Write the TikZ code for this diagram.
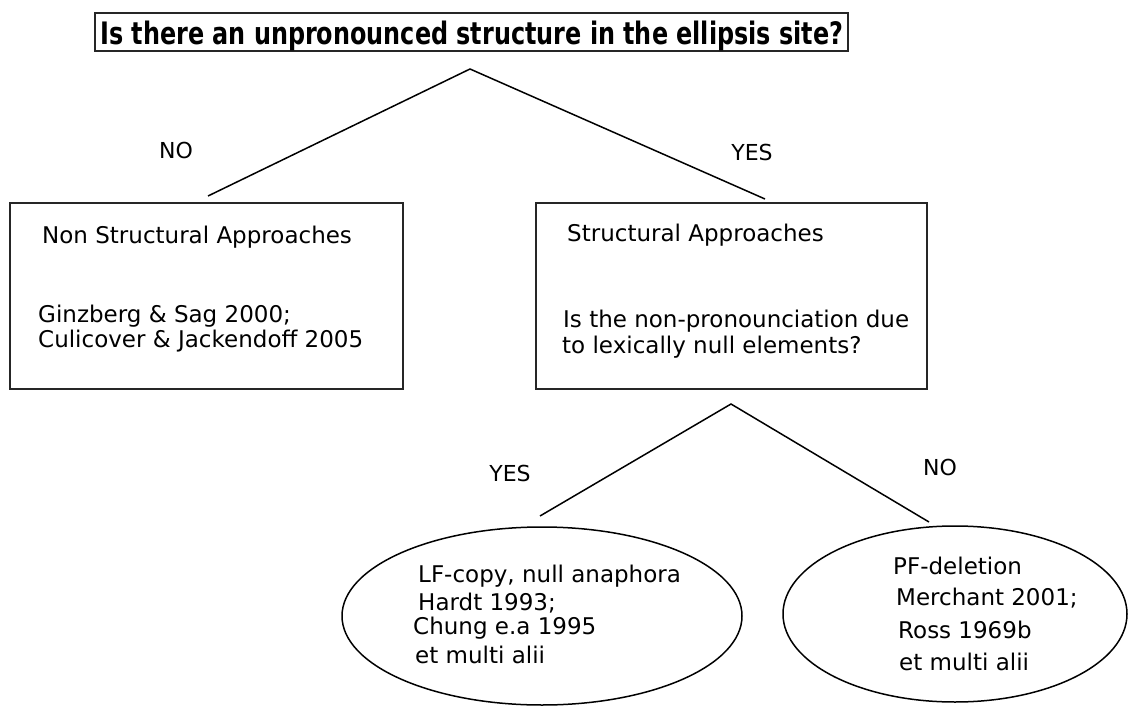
\documentclass[tikz,border=0pt]{standalone}
\usepackage{fontspec}
\setmainfont{DejaVu Sans}
\usepackage{graphicx}
\begin{document}
\begin{tikzpicture}[x=1pt,y=-1pt,
  frame/.style={draw=black!85, line width=1.6pt},
  branch/.style={draw=black, line width=1.5pt},
  txt/.style={inner sep=0pt, anchor=base west, font=\fontsize{23}{27}\selectfont},
  lbl/.style={inner sep=0pt, font=\fontsize{22}{26}\selectfont},
  oval/.style={draw=black, line width=1.5pt}]
\useasboundingbox (0,0) rectangle (1130,706);

% question at the root
\draw[frame] (95,13) rectangle (848,51);
\node[inner sep=0pt, anchor=base west] (q) at (100,44.5)
  {\resizebox{743pt}{23.5pt}{\bfseries Is there an unpronounced structure in the ellipsis site?}};

% first branching
\coordinate (fork1) at (470,69);
\coordinate (nsTop) at (208,196);
\coordinate (sTop) at (765,199);
\draw[branch] (nsTop) -- (fork1) -- (sTop);
\node[lbl] (no1) at (176,150) {NO};
\node[lbl] (yes1) at (752,152) {YES};

% non-structural box
\draw[frame] (10,203) rectangle (403,389);
\node[txt] (ns) at (42,243) {Non Structural Approaches};
\node[txt] (ns1) at (38,322) {Ginzberg \& Sag 2000;};
\node[txt] (ns2) at (38,347) {Culicover \& Jackendoff 2005};

% structural box
\draw[frame] (536,203) rectangle (927,389);
\node[txt] (st) at (567,241) {Structural Approaches};
\node[txt] (st1) at (563,327) {Is the non-pronounciation due};
\node[txt] (st2) at (562,353) {to lexically null elements?};

% second branching
\coordinate (fork2) at (731,404);
\coordinate (lfTop) at (540,516);
\coordinate (pfTop) at (929,522);
\draw[branch] (lfTop) -- (fork2) -- (pfTop);
\node[lbl] (yes2) at (510,473) {YES};
\node[lbl] (no2) at (940,467) {NO};

% LF-copy ellipse
\draw[oval] (542,616) ellipse [x radius=200, y radius=89];
\node[txt] (lf) at (418,582) {LF-copy, null anaphora};
\node[txt] (lf1) at (418,610) {Hardt 1993;};
\node[txt] (lf2) at (413,634) {Chung e.a 1995};
\node[txt] (lf3) at (415,663) {et multi alii};

% PF-deletion ellipse
\draw[oval] (955,614) ellipse [x radius=172, y radius=88];
\node[txt] (pf) at (893,574) {PF-deletion};
\node[txt] (pf1) at (896,605) {Merchant 2001;};
\node[txt] (pf2) at (898,638) {Ross 1969b};
\node[txt] (pf3) at (899,670) {et multi alii};
\end{tikzpicture}
\end{document}
